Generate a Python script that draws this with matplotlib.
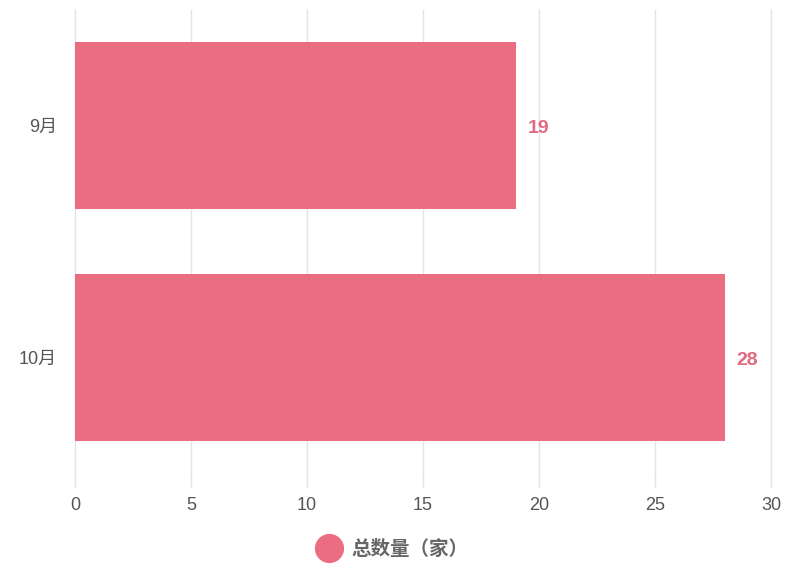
import matplotlib.pyplot as plt
from matplotlib.lines import Line2D

plt.rcParams['font.family'] = ['Liberation Sans', 'Noto Sans CJK SC', 'DejaVu Sans']

# Data
months = ["9月", "10月"]
counts = [19, 28]
series_name = "总数量（家）"
xticks = [0, 5, 10, 15, 20, 25, 30]

bar_color = "#EB6D82"
label_color = "#E26A80"
grid_color = "#E3E3E3"
text_color = "#555555"

fig = plt.figure(figsize=(8, 5.82), dpi=100)
ax = fig.add_axes([75 / 800, 1 - 473 / 582, 696 / 800, 463 / 582])

pos = list(range(len(months)))
ax.barh(pos, counts, height=0.72, color=bar_color, zorder=3)

# value labels at bar ends
for y, v in zip(pos, counts):
    ax.text(v + 0.5, y + 0.012, str(v), va="center", ha="left", color=label_color,
            fontsize=14, fontweight="bold", zorder=4)

ax.set_xlim(0, 30)
ax.set_ylim(len(months) - 0.5, -0.5)
ax.set_xticks(xticks)
ax.set_yticks(pos)
ax.set_yticklabels(months)

ax.grid(axis="x", color=grid_color, linewidth=1, zorder=0)
for gl in ax.get_xgridlines():
    gl.set_clip_on(False)
for s in ax.spines.values():
    s.set_visible(False)
ax.tick_params(axis="x", length=10.5, width=1, color=grid_color, labelsize=13,
               labelcolor=text_color, pad=7)
ax.tick_params(axis="y", length=0, labelsize=13, labelcolor=text_color, pad=13)

# legend with round marker
handle = Line2D([], [], marker="o", linestyle="none", markersize=20,
                markerfacecolor=bar_color, markeredgecolor=bar_color)
leg = fig.legend([handle], [series_name], loc="center",
                 bbox_to_anchor=(389 / 800, 1 - 549 / 582), frameon=False,
                 handletextpad=0.2, prop={"size": 14, "weight": "bold",
                                          "family": ['Noto Sans CJK SC', 'DejaVu Sans']})
for t in leg.get_texts():
    t.set_color("#666666")

fig.savefig("out.png", dpi=100)
